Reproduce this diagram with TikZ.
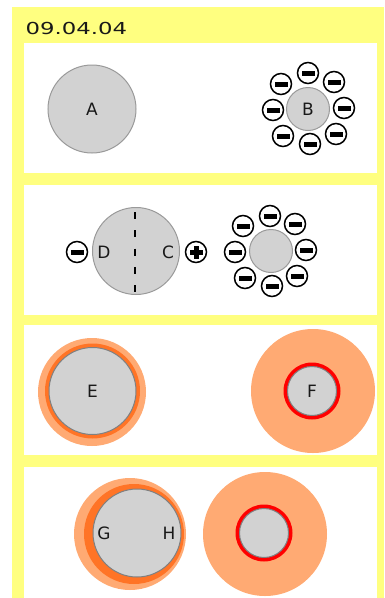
\documentclass[tikz,border=0pt]{standalone}
\usepackage{graphicx}
\usepackage{fontspec}
\setmainfont{DejaVu Sans}
\definecolor{paneyellow}{HTML}{FFFF80}
\definecolor{ballgray}{HTML}{D2D2D2}
\definecolor{rimgray}{HTML}{9A9A9A}
\definecolor{rimdark}{HTML}{808080}
\definecolor{haze}{HTML}{FFAA73}
\definecolor{deep}{HTML}{FF7426}
\newcommand{\negat}[2]{\node[charge] (#1) at #2 {}; \fill[black] ([shift={(-6.5,-2.5)}]#1.center) rectangle ([shift={(6.5,2.5)}]#1.center);}
\newcommand{\posit}[2]{\node[charge] (#1) at #2 {}; \fill[black] ([shift={(-6.5,-2.5)}]#1.center) rectangle ([shift={(6.5,2.5)}]#1.center); \fill[black] ([shift={(-2.5,-6.5)}]#1.center) rectangle ([shift={(2.5,6.5)}]#1.center);}
\tikzset{
  x=1pt,y=-1pt,
  panel/.style={fill=white,draw=none},
  ball/.style={circle,fill=ballgray,draw=rimgray,line width=1pt,minimum size=#1,inner sep=0pt,font=\fontsize{17}{17}\selectfont,text=black!90},
  ballb/.style={ball=#1,draw=rimdark},
  haloL/.style={circle,fill=haze,minimum size=#1,inner sep=0pt},
  haloD/.style={circle,fill=deep,minimum size=#1,inner sep=0pt},
  redring/.style={circle,fill=red,minimum size=#1,inner sep=0pt},
  charge/.style={circle,fill=white,draw=black,line width=1.5pt,minimum size=21pt,inner sep=0pt},
  lab/.style={inner sep=0pt,font=\fontsize{17}{17}\selectfont,text=black!90},
}
\begin{document}
\begin{tikzpicture}
\useasboundingbox (0,0) rectangle (384,598);
\fill[white] (0,0) rectangle (384,598);
\fill[paneyellow] (12,7) rectangle (384,598);
\fill[panel] (24,43) rectangle (377,173);
\fill[panel] (24,185) rectangle (377,315);
\fill[panel] (24,325) rectangle (377,455);
\fill[panel] (24,467) rectangle (377,598);
\node[inner sep=0pt,anchor=west,font=\fontsize{16.5}{17}\selectfont,text=black!90] (date) at (25.5,28.5) {\scalebox{1.38}[1]{09.04.04}};
% panel 1
\node[ball=88pt] (A) at (92,109) {A};
\node[ball=43pt] (B) at (308,109) {B};
\negat{b1}{(308,73)}\negat{b2}{(334,82)}\negat{b3}{(344,108)}\negat{b4}{(336,134)}
\negat{b5}{(310,144)}\negat{b6}{(283,136)}\negat{b7}{(273,110)}\negat{b8}{(281,84)}
% panel 2
\node[ball=87pt] (CD) at (136,251) {};
\coordinate (dashtop) at (135,212);
\coordinate (dashbot) at (135,292);
\draw[black,line width=1.8pt,dash pattern=on 7pt off 11.25pt] (dashtop) -- (dashbot);
\node[lab] (D) at (104,252) {D};
\node[lab] (C) at (168,252) {C};
\negat{dm}{(77,252)}
\posit{cp}{(196,252)}
\node[ball=43pt] (B2) at (271,251) {};
\negat{c1}{(270,216)}\negat{c2}{(295,224)}\negat{c3}{(306,250)}\negat{c4}{(297,276)}
\negat{c5}{(272,286)}\negat{c6}{(245,278)}\negat{c7}{(235,252)}\negat{c8}{(243,226)}
% panel 3
\node[haloL=108pt] (Eo) at (92,392) {};
\node[haloD=95pt] (Ed) at (92.5,391) {};
\node[ballb=87pt] (E) at (92.5,391) {E};
\node[haloL=124pt] (Fo) at (313,391) {};
\node[redring=57pt] (Fr) at (312,391) {};
\node[ballb=49pt] (F) at (312,391) {F};
% panel 4
\node[haloL=112pt] (Go) at (130,534) {};
\node[haloD=100pt] (Gd) at (134,534) {};
\node[ballb=88pt] (GH) at (137,533) {};
\node[lab] (G) at (104,533) {G};
\node[lab] (H) at (169,533) {H};
\node[haloL=124pt] (Jo) at (265,534) {};
\node[redring=57pt] (Jr) at (264,533) {};
\node[ballb=49pt] (J) at (264,533) {};
\end{tikzpicture}
\end{document}
